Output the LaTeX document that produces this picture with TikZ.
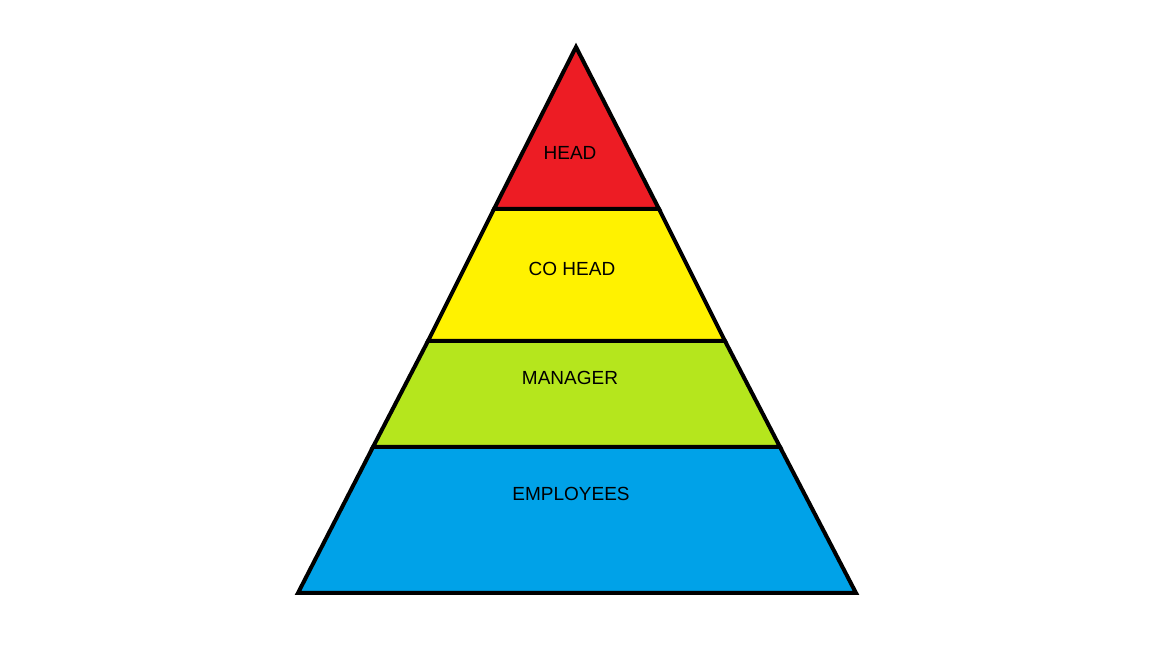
\documentclass[tikz,border=0pt]{standalone}
\usepackage{fontspec}
\setmainfont{Liberation Sans}
\definecolor{tierred}{HTML}{ED1C24}
\definecolor{tieryellow}{HTML}{FFF200}
\definecolor{tiergreen}{HTML}{B5E61D}
\definecolor{tierblue}{HTML}{00A2E8}
\begin{document}
\begin{tikzpicture}[x=1pt,y=1pt,
  tier/.style={draw=black,line width=4pt,line join=miter},
  label/.style={font=\fontsize{19}{21}\selectfont,text=black,inner sep=0pt}]
\useasboundingbox (0,0) rectangle (1152,648);
% pyramid outline points (y measured upward)
\coordinate (apex) at (576,601);
\coordinate (l1) at (494,439); \coordinate (r1) at (659,439);
\coordinate (l2) at (428,307); \coordinate (r2) at (725,307);
\coordinate (l3) at (373,201); \coordinate (r3) at (780,201);
\coordinate (bl) at (298,55);  \coordinate (br) at (856,55);
% tiers, bottom to top
\filldraw[tier,fill=tierblue]   (l3) -- (r3) -- (br) -- (bl) -- cycle;
\filldraw[tier,fill=tiergreen]  (l2) -- (r2) -- (r3) -- (l3) -- cycle;
\filldraw[tier,fill=tieryellow] (l1) -- (r1) -- (r2) -- (l2) -- cycle;
\filldraw[tier,fill=tierred]    (apex) -- (r1) -- (l1) -- cycle;
% tier labels
\node[label] (head)     at (570,495) {HEAD};
\node[label] (cohead)   at (572,379) {CO HEAD};
\node[label] (manager)  at (570,270) {MANAGER};
\node[label] (employees) at (571,154) {EMPLOYEES};
\end{tikzpicture}
\end{document}
